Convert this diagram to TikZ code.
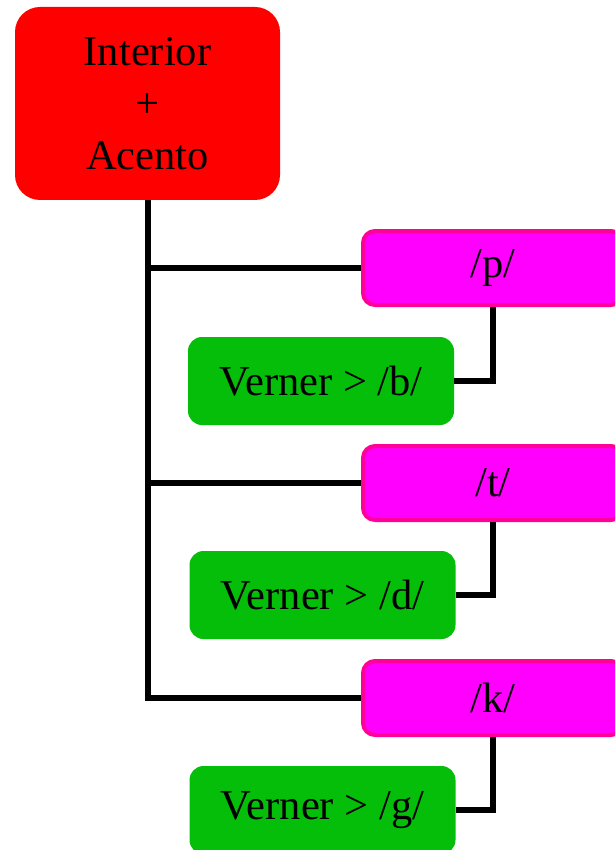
\documentclass[tikz,border=0pt]{standalone}
\usepackage{fontspec}
\setmainfont{Liberation Serif}
\usepackage{tikz}
\usetikzlibrary{positioning}

\definecolor{rootred}{RGB}{255,0,0}
\definecolor{soundfill}{RGB}{255,0,255}
\definecolor{soundline}{RGB}{255,0,153}
\definecolor{vernergreen}{RGB}{4,190,10}

\begin{document}
\begin{tikzpicture}[x=1pt, y=-1pt,
        font=\fontsize{42.5}{52}\selectfont,
        root/.style={fill=rootred, rounded corners=25pt, align=center,
                     minimum width=265pt, minimum height=193pt, inner sep=0pt},
        sound/.style={fill=soundfill, draw=soundline, line width=4pt, rounded corners=12pt,
                      minimum width=260pt, minimum height=74pt, inner sep=0pt},
        verner/.style={fill=vernergreen, rounded corners=14pt,
                       minimum width=266pt, minimum height=88pt, inner sep=0pt},
        link/.style={line width=6pt}
    ]
            \clip (0, 0) rectangle (615, 850);
            \node[root] (top) at (147.5, 103.5) {Interior\\+\\Acento};
            \node[sound] (p) at (493, 268) {/p/};
            \node[verner] (vb) at (321, 381) {Verner > /b/};
            \node[sound] (t) at (493, 483) {/t/};
            \node[verner] (vd) at (322.5, 595) {Verner > /d/};
            \node[sound] (k) at (493, 698) {/k/};
            \node[verner] (vg) at (322.5, 810) {Verner > /g/};
            \draw[link] (top.south) |- (k.west);
            \draw[link] (top.south |- p.west) -- (p.west);
            \draw[link] (top.south |- t.west) -- (t.west);
            \draw[link] (p.south) |- (vb.east);
            \draw[link] (t.south) |- (vd.east);
            \draw[link] (k.south) |- (vg.east);
        \end{tikzpicture}
\end{document}
